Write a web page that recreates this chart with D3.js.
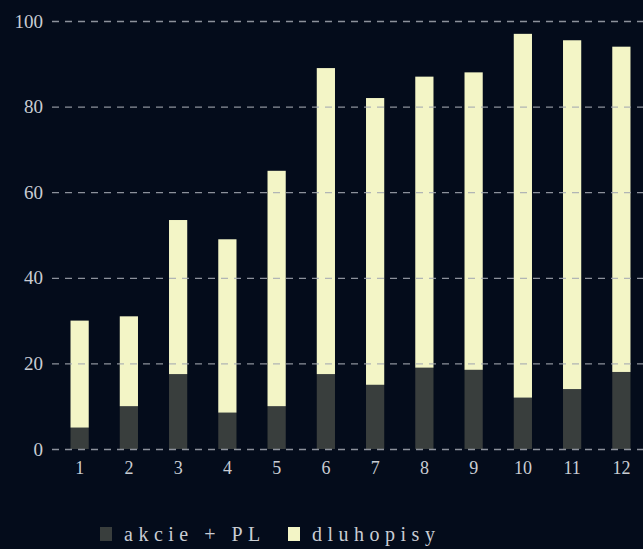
<!DOCTYPE html>
<html>
<head>
<meta charset="utf-8">
<script src="https://cdn.jsdelivr.net/npm/d3@7"></script>
<style>
	body { margin: 0; background: #040c1b; }
	svg { display: block; }
</style>
</head>
<body>
<svg id="chart"></svg>
<script>
	// data
	var months = ["1", "2", "3", "4", "5", "6", "7", "8", "9", "10", "11", "12"];
	var akcie = [5, 10, 17.5, 8.5, 10, 17.5, 15, 19, 18.5, 12, 14, 18];
	var dluhopisy = [25, 21, 36, 40.5, 55, 71.5, 67, 68, 69.5, 85, 81.5, 76];
	var yTicks = [0, 20, 40, 60, 80, 100];
	var seriesNames = ["akcie + PL", "dluhopisy"];
	var colors = ["#393e3d", "#f3f5c6"];

	var width = 643, height = 549;
	var svg = d3.select("#chart")
		.attr("width", width)
		.attr("height", height);

	var x = d3.scaleBand()
		.domain(months)
		.range([55, 646])
		.paddingInner(0.63)
		.paddingOuter(0.315);

	var y = d3.scaleLinear()
		.domain([0, 100])
		.range([449, 21]);

	var rows = months.map(function(m, i) {
		return { m: m, akcie: akcie[i], dluhopisy: dluhopisy[i] };
	});
	var stack = d3.stack().keys(["akcie", "dluhopisy"])(rows);

	// bars
	svg.append("g")
		.selectAll("g")
		.data(stack)
		.enter().append("g")
		.attr("fill", function(d, i) { return colors[i]; })
		.selectAll("rect")
		.data(function(d) { return d; })
		.enter().append("rect")
		.attr("x", function(d) { return x(d.data.m); })
		.attr("width", x.bandwidth())
		.attr("y", function(d) { return y(d[1]); })
		.attr("height", function(d) { return y(d[0]) - y(d[1]); });

	var serif = "'Liberation Serif', 'DejaVu Serif', serif";

	// y axis + grid
	var yAxis = svg.append("g")
		.attr("transform", "translate(52,0)")
		.call(d3.axisLeft(y).tickValues(yTicks).tickSize(-(width - 52)).tickPadding(9));
	yAxis.select(".domain").remove();
	yAxis.selectAll(".tick line")
		.attr("stroke", "#a4a9b2")
		.attr("stroke-opacity", 0.85)
		.attr("stroke-width", 1.3)
		.attr("stroke-dasharray", "7,6");
	yAxis.selectAll("text")
		.attr("fill", "#c9cdd4")
		.style("font-family", serif)
		.style("font-size", "19px");

	// x axis
	var xAxis = svg.append("g")
		.attr("transform", "translate(0,456)")
		.call(d3.axisBottom(x).tickSize(0).tickPadding(5));
	xAxis.select(".domain").remove();
	xAxis.selectAll("text")
		.attr("fill", "#c9cdd4")
		.style("font-family", serif)
		.style("font-size", "18px");

	// legend
	var legend = svg.append("g")
		.attr("transform", "translate(100,527)");
	var items = legend.selectAll("g")
		.data(seriesNames)
		.enter().append("g")
		.attr("transform", function(d, i) { return "translate(" + (i * 188) + ",0)"; });
	items.append("rect")
		.attr("width", 12)
		.attr("height", 14)
		.attr("fill", function(d, i) { return colors[i]; });
	items.append("text")
		.attr("x", 24)
		.attr("y", 14)
		.attr("fill", "#c9cdd4")
		.style("font-family", serif)
		.style("font-size", "20px")
		.style("letter-spacing", "5.5px")
		.text(function(d) { return d; });
</script>
</body>
</html>
